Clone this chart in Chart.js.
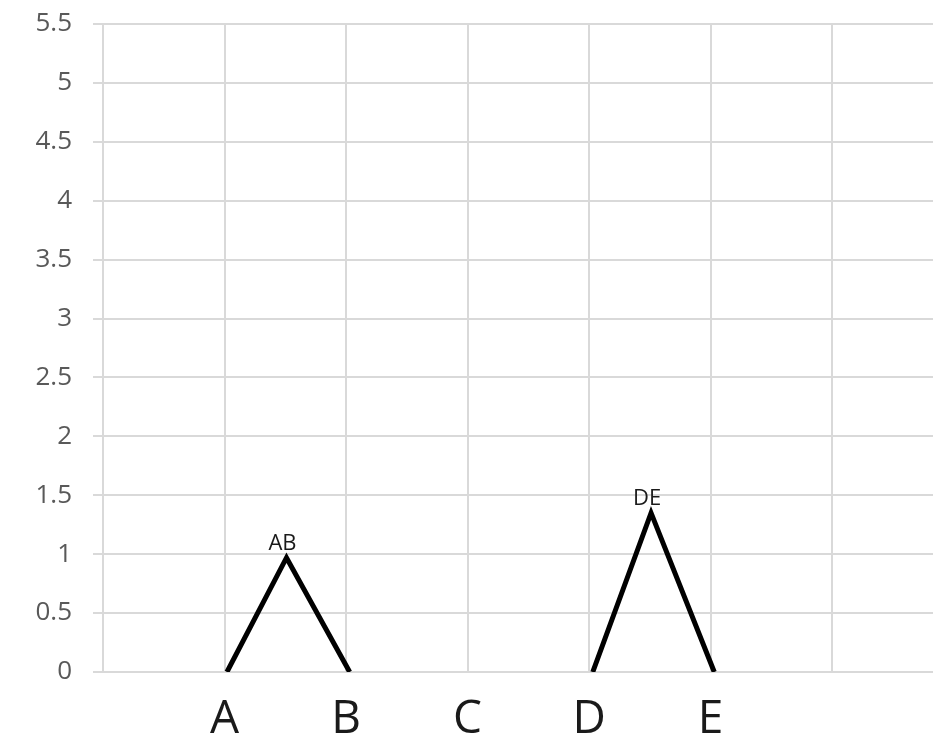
<!DOCTYPE html>
<html>
<head>
<meta charset="utf-8">
<script src="https://cdn.jsdelivr.net/npm/chart.js@4/dist/chart.umd.min.js"></script>
<style>
  html, body { margin: 0; padding: 0; background: #fff; }
  #wrap { width: 933px; height: 738px; }
</style>
</head>
<body>
<div id="wrap"><canvas id="canvas"></canvas></div>
<script>
// category letters on the x axis and where they sit
const categories = ['A', 'B', 'C', 'D', 'E'];
const categoryPos = [1, 2, 3, 4, 5];

// the two merges, each drawn as a peak
const pairNames = ['AB', 'DE'];
const abX = [1.02, 1.51, 2.03];
const abY = [0, 0.97, 0];
const deX = [4.03, 4.51, 5.03];
const deY = [0, 1.35, 0];

const yTicks = [0, 0.5, 1, 1.5, 2, 2.5, 3, 3.5, 4, 4.5, 5, 5.5];

const toPoints = (xs, ys) => xs.map((x, i) => ({ x: x, y: ys[i] }));
const gridColor = '#d9d9d9';
const font = "'Open Sans', 'Noto Sans', sans-serif";

const peakLabels = {
  id: 'peakLabels',
  afterDatasetsDraw(chart) {
    const ctx = chart.ctx;
    ctx.save();
    ctx.font = '22px ' + font;
    ctx.fillStyle = '#1a1a1a';
    ctx.textAlign = 'center';
    ctx.textBaseline = 'bottom';
    chart.data.datasets.forEach((ds, i) => {
      const top = chart.getDatasetMeta(i).data[1];
      ctx.fillText(pairNames[i], top.x - 4, top.y - 3);
    });
    ctx.restore();
  }
};

new Chart(document.getElementById('canvas').getContext('2d'), {
  type: 'scatter',
  data: {
    datasets: [
      { label: pairNames[0], data: toPoints(abX, abY) },
      { label: pairNames[1], data: toPoints(deX, deY) }
    ].map(d => Object.assign(d, {
      showLine: true,
      borderColor: '#000',
      borderWidth: 5,
      borderCapStyle: 'butt',
      pointRadius: 0,
      pointHoverRadius: 0
    }))
  },
  options: {
    responsive: true,
    maintainAspectRatio: false,
    animation: false,
    layout: { padding: { top: 24, right: 0, left: 0, bottom: 0 } },
    plugins: { legend: { display: false }, tooltip: { enabled: false } },
    scales: {
      x: {
        type: 'linear',
        min: 0,
        max: 6.83,
        afterBuildTicks: s => { s.ticks = [0, 1, 2, 3, 4, 5, 6].map(v => ({ value: v })); },
        afterFit: s => { s.height = 66; s.paddingLeft = 0; s.paddingRight = 0; },
        ticks: {
          autoSkip: false,
          maxRotation: 0,
          padding: 20,
          color: '#1a1a1a',
          font: { family: font, size: 46 },
          callback: v => {
            const i = categoryPos.indexOf(v);
            return i >= 0 ? categories[i] : '';
          }
        },
        grid: { color: gridColor, lineWidth: 2, drawTicks: false },
        border: { color: gridColor, width: 2 }
      },
      y: {
        min: 0,
        max: 5.5,
        afterBuildTicks: s => { s.ticks = yTicks.map(v => ({ value: v })); },
        afterFit: s => { s.width = 103; s.paddingTop = 0; s.paddingBottom = 0; },
        ticks: {
          padding: 21,
          color: '#595959',
          font: { family: font, size: 26 },
          callback: v => String(v)
        },
        grid: { color: gridColor, lineWidth: 2, tickLength: 10 },
        border: { color: gridColor, width: 2 }
      }
    }
  },
  plugins: [peakLabels]
});
</script>
</body>
</html>
